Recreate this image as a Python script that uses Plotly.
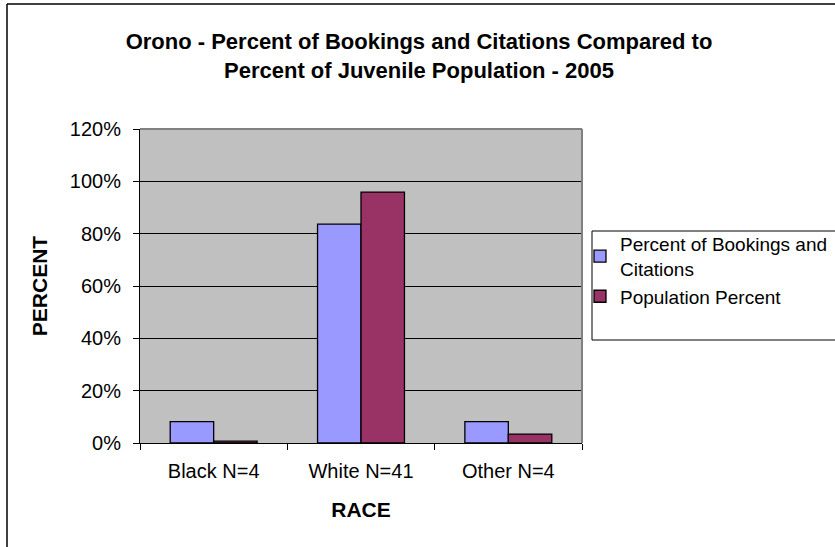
import plotly.graph_objects as go

categories = ["Black N=4", "White N=41", "Other N=4"]
bookings_pct = [0.0816, 0.8367, 0.0816]
population_pct = [0.007, 0.959, 0.034]
series_names = ["Percent of Bookings and<br>Citations", "Population Percent"]
y_ticks = [0, 0.2, 0.4, 0.6, 0.8, 1.0, 1.2]

FONT = "Liberation Sans, Arial, sans-serif"

fig = go.Figure()
fig.add_trace(go.Bar(x=categories, y=bookings_pct, name=series_names[0],
                     marker=dict(color="#9999FF", line=dict(color="black", width=1.3))))
fig.add_trace(go.Bar(x=categories, y=population_pct, name=series_names[1],
                     marker=dict(color="#993366", line=dict(color="black", width=1.3))))

W, H = 835, 547
L, R, T, B = 140, 582, 129, 443
pw, ph = R - L, B - T

def px(x):
    return (x - L) / pw

def py(y):
    return (B - y) / ph

shapes = [
    # plot area frame top/right (gray)
    dict(type="line", xref="paper", yref="paper", x0=0, x1=1, y0=1, y1=1,
         line=dict(color="#808080", width=2), layer="above"),
    dict(type="line", xref="paper", yref="paper", x0=1, x1=1, y0=0, y1=1,
         line=dict(color="#808080", width=2), layer="above"),
    # legend box
    dict(type="rect", xref="paper", yref="paper", x0=px(592), x1=px(845),
         y0=py(340), y1=py(231), line=dict(color="black", width=1)),
    # chart area border
    dict(type="line", xref="paper", yref="paper", x0=px(7), x1=px(845),
         y0=py(4), y1=py(4), line=dict(color="black", width=1.5)),
    dict(type="line", xref="paper", yref="paper", x0=px(7), x1=px(7),
         y0=py(4), y1=py(560), line=dict(color="black", width=1.5)),
]

fig.update_layout(
    width=W, height=H,
    margin=dict(l=L, r=W - R, t=T, b=H - B, autoexpand=False),
    paper_bgcolor="white",
    plot_bgcolor="#C0C0C0",
    barmode="group",
    bargap=0.41,
    bargroupgap=0,
    font=dict(family=FONT, size=20, color="black"),
    title=dict(
        text="<b>Orono - Percent of Bookings and Citations Compared to<br>Percent of Juvenile Population - 2005</b>",
        x=419 / W, xanchor="center", xref="container",
        y=1 - 49 / H, yanchor="top", yref="container",
        font=dict(family=FONT, size=22, color="black"),
    ),
    xaxis=dict(
        title=dict(text="<b>RACE</b>", font=dict(family=FONT, size=21), standoff=21),
        tickson="boundaries", ticks="outside", ticklen=6, tickcolor="black",
        ticklabelstandoff=10,
        showline=True, linecolor="black", linewidth=1,
        tickfont=dict(family=FONT, size=20),
        showgrid=False,
    ),
    yaxis=dict(
        title=dict(text="<b>PERCENT</b>", font=dict(family=FONT, size=21), standoff=16),
        range=[0, 1.2], tickvals=y_ticks, tickformat=".0%",
        ticks="outside", ticklen=6, tickcolor="black",
        ticklabelstandoff=8,
        showline=True, linecolor="black", linewidth=1,
        showgrid=True, gridcolor="black", gridwidth=1,
        zeroline=False,
        tickfont=dict(family=FONT, size=20),
    ),
    legend=dict(
        x=px(580), xanchor="left", y=py(225), yanchor="top",
        font=dict(family=FONT, size=19),
        bgcolor="rgba(0,0,0,0)", borderwidth=0,
        tracegroupgap=0,
    ),
    shapes=shapes,
)

fig.write_html("out.html", config={"displayModeBar": False},
               post_script="document.body.style.margin='0';")
